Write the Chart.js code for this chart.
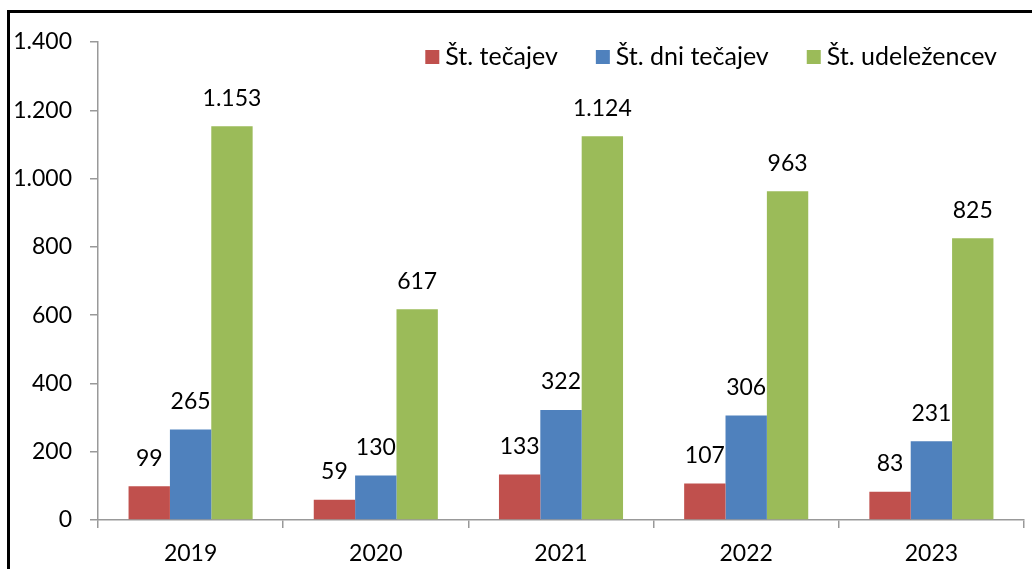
<!DOCTYPE html>
<html>
<head>
<meta charset="utf-8">
<script src="https://cdn.jsdelivr.net/npm/chart.js@4/dist/chart.umd.min.js"></script>
<style>
  html, body { margin: 0; padding: 0; background: #fff; }
  #wrap { position: relative; width: 1032px; height: 569px; overflow: hidden; }
  #frame { position: absolute; left: 7px; top: 10px; width: 1100px; height: 700px; border-left: 3px solid #000; border-top: 3px solid #000; }
  #chart { position: absolute; left: 0; top: 0; }
</style>
</head>
<body>
<div id="wrap">
  <div id="frame"></div>
  <canvas id="chart" width="1032" height="569"></canvas>
</div>
<script>
'use strict';
// chart data
let years = ['2019', '2020', '2021', '2022', '2023'];
let courses = [99, 59, 133, 107, 83];
let courseDays = [265, 130, 322, 306, 231];
let participants = [1153, 617, 1124, 963, 825];
let seriesNames = ['Št. tečajev', 'Št. dni tečajev', 'Št. udeležencev'];
let seriesColors = ['#C0504D', '#4F81BD', '#9BBB59'];
let yMax = 1400;
let yStep = 200;

let fontFamily = 'Lato, "Liberation Sans", sans-serif';

// thousands separator with a dot, like in the original
function formatNum(v) {
  return String(v).replace(/\B(?=(\d{3})+(?!\d))/g, '.');
}

// writes the value above each bar
let valueLabels = {
  id: 'valueLabels',
  afterDatasetsDraw(chart) {
    let ctx = chart.ctx;
    ctx.save();
    ctx.font = '23px ' + fontFamily;
    ctx.fillStyle = '#000';
    ctx.textAlign = 'center';
    ctx.textBaseline = 'middle';
    chart.data.datasets.forEach(function(ds, i) {
      let meta = chart.getDatasetMeta(i);
      meta.data.forEach(function(bar, j) {
        ctx.fillText(formatNum(ds.data[j]), bar.x, bar.y - 28);
      });
    });
    ctx.restore();
  }
};

// legend sits inside the plot, top right, in one row
let insideLegend = {
  id: 'insideLegend',
  afterDraw(chart) {
    let ctx = chart.ctx;
    let area = chart.chartArea;
    ctx.save();
    ctx.font = '25px ' + fontFamily;
    ctx.textBaseline = 'middle';
    ctx.textAlign = 'left';
    let y = area.top + 15;
    let end = area.right - 27;
    let sets = chart.data.datasets;
    for (let i = sets.length - 1; i >= 0; i--) {
      let w = ctx.measureText(sets[i].label).width;
      let textX = end - w;
      let boxX = textX - 6 - 14;
      ctx.fillStyle = sets[i].backgroundColor;
      ctx.fillRect(boxX, y - 7, 14, 14);
      ctx.fillStyle = '#000';
      ctx.fillText(sets[i].label, textX, y);
      end = boxX - 38;
    }
    ctx.restore();
  }
};

let datasets = [courses, courseDays, participants].map(function(values, i) {
  return {
    label: seriesNames[i],
    data: values,
    backgroundColor: seriesColors[i],
    borderWidth: 0
  };
});

new Chart(document.getElementById('chart'), {
  type: 'bar',
  data: { labels: years, datasets: datasets },
  plugins: [valueLabels, insideLegend],
  options: {
    responsive: false,
    animation: false,
    layout: { padding: { top: 42, right: 8, left: 0, bottom: 0 } },
    datasets: { bar: { categoryPercentage: 0.67, barPercentage: 1.0 } },
    plugins: {
      tooltip: { enabled: false },
      legend: { display: false }
    },
    scales: {
      x: {
        grid: { drawOnChartArea: false, drawTicks: true, tickLength: 8, color: '#999', lineWidth: 1.5 },
        border: { color: '#999', width: 1.5 },
        ticks: { color: '#000', padding: 12, font: { family: fontFamily, size: 23 } },
        afterFit(scale) { scale.height = 49; }
      },
      y: {
        min: 0,
        max: yMax,
        grid: { drawOnChartArea: false, drawTicks: true, tickLength: 8, color: '#999', lineWidth: 1.5 },
        border: { color: '#999', width: 1.5 },
        ticks: {
          stepSize: yStep,
          color: '#000',
          padding: 18,
          font: { family: fontFamily, size: 23 },
          callback: function(v) { return formatNum(v); }
        },
        afterFit(scale) { scale.width = 98; }
      }
    }
  }
});
</script>
</body>
</html>
